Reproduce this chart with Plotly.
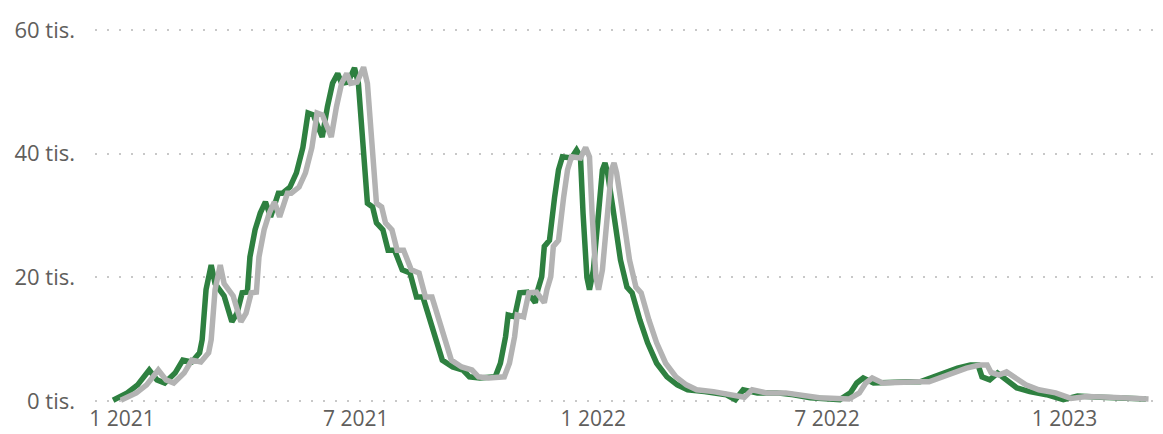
import plotly.graph_objects as go

# Green series (values in thousands)
green_dates = [
    "2020-12-25", "2021-01-05", "2021-01-13", "2021-01-22", "2021-01-28", "2021-02-03", "2021-02-11",
    "2021-02-17", "2021-02-24", "2021-03-02", "2021-03-04", "2021-03-07", "2021-03-11", "2021-03-14",
    "2021-03-21", "2021-03-27", "2021-03-31", "2021-04-04", "2021-04-08", "2021-04-10", "2021-04-14",
    "2021-04-18", "2021-04-22", "2021-04-26", "2021-05-02", "2021-05-05", "2021-05-11", "2021-05-16",
    "2021-05-21", "2021-05-25", "2021-05-29", "2021-06-02", "2021-06-05", "2021-06-09", "2021-06-13",
    "2021-06-17", "2021-06-20", "2021-06-25", "2021-06-30", "2021-07-03", "2021-07-06", "2021-07-08",
    "2021-07-10", "2021-07-14", "2021-07-17", "2021-07-22", "2021-07-26", "2021-07-31", "2021-08-06",
    "2021-08-12", "2021-08-17", "2021-08-22", "2021-08-27", "2021-09-02", "2021-09-06", "2021-09-14",
    "2021-09-22", "2021-09-27", "2021-10-05", "2021-10-17", "2021-10-21", "2021-10-25", "2021-10-27",
    "2021-11-01", "2021-11-05", "2021-11-11", "2021-11-17", "2021-11-19", "2021-11-22", "2021-11-24",
    "2021-11-28", "2021-12-02", "2021-12-05", "2021-12-08", "2021-12-12", "2021-12-15", "2021-12-19",
    "2021-12-22", "2021-12-24", "2021-12-27", "2021-12-29", "2022-01-01", "2022-01-05", "2022-01-08",
    "2022-01-10", "2022-01-12", "2022-01-16", "2022-01-22", "2022-01-27", "2022-01-31", "2022-02-06",
    "2022-02-12", "2022-02-19", "2022-02-27", "2022-03-07", "2022-03-15", "2022-03-28", "2022-04-14",
    "2022-04-21", "2022-04-27", "2022-05-08", "2022-05-23", "2022-06-05", "2022-06-18", "2022-07-11",
    "2022-07-19", "2022-07-24", "2022-07-29", "2022-08-06", "2022-08-21", "2022-09-03", "2022-09-11",
    "2022-09-28", "2022-10-10", "2022-10-20", "2022-10-26", "2022-10-29", "2022-11-04", "2022-11-10",
    "2022-11-18", "2022-11-25", "2022-12-05", "2022-12-18", "2022-12-31", "2023-01-11", "2023-01-29",
    "2023-03-05",
]
green_values = [
    0.1, 1.3, 2.6, 5.0, 3.4, 2.9, 4.5,
    6.6, 6.3, 7.8, 9.9, 18.0, 22.0, 19.0,
    17.0, 12.8, 14.2, 17.5, 17.6, 23.3, 27.7,
    30.4, 32.2, 29.8, 33.6, 33.6, 34.6, 36.9,
    41.0, 46.6, 46.3, 44.3, 42.7, 47.6, 51.4,
    53.0, 51.4, 51.6, 53.9, 51.4, 43.4, 35.3,
    32.0, 31.4, 28.8, 27.7, 24.4, 24.4, 21.2,
    20.7, 16.8, 16.8, 13.6, 9.4, 6.6, 5.5,
    5.0, 3.9, 3.7, 3.9, 6.1, 10.4, 13.9,
    13.6, 17.5, 17.6, 15.9, 18.0, 20.1, 25.0,
    26.0, 33.0, 37.4, 39.5, 39.5, 39.3, 40.6,
    39.5, 30.4, 20.0, 18.0, 21.2, 30.4, 37.4,
    38.5, 36.9, 31.4, 22.8, 18.4, 17.5, 13.1,
    9.4, 6.1, 3.9, 2.6, 1.8, 1.5, 1.0,
    0.2, 1.8, 1.3, 1.3, 1.0, 0.5, 0.2,
    1.3, 2.9, 3.7, 2.9, 3.1, 3.1, 3.1,
    4.5, 5.3, 5.8, 5.8, 3.9, 3.4, 4.5,
    3.1, 2.1, 1.5, 1.0, 0.2, 0.8, 0.6,
    0.3,
]

# Gray series (values in thousands)
gray_dates = [
    "2020-12-31", "2021-01-12", "2021-01-20", "2021-01-29", "2021-02-04", "2021-02-10", "2021-02-18",
    "2021-02-24", "2021-03-03", "2021-03-09", "2021-03-11", "2021-03-14", "2021-03-18", "2021-03-21",
    "2021-03-28", "2021-04-03", "2021-04-07", "2021-04-11", "2021-04-15", "2021-04-17", "2021-04-21",
    "2021-04-25", "2021-04-29", "2021-05-03", "2021-05-09", "2021-05-12", "2021-05-18", "2021-05-23",
    "2021-05-28", "2021-06-01", "2021-06-05", "2021-06-09", "2021-06-12", "2021-06-16", "2021-06-20",
    "2021-06-24", "2021-06-27", "2021-07-02", "2021-07-07", "2021-07-10", "2021-07-13", "2021-07-15",
    "2021-07-17", "2021-07-21", "2021-07-24", "2021-07-29", "2021-08-02", "2021-08-07", "2021-08-13",
    "2021-08-19", "2021-08-24", "2021-08-29", "2021-09-03", "2021-09-09", "2021-09-13", "2021-09-21",
    "2021-09-29", "2021-10-04", "2021-10-12", "2021-10-24", "2021-10-28", "2021-11-01", "2021-11-03",
    "2021-11-08", "2021-11-12", "2021-11-18", "2021-11-24", "2021-11-26", "2021-11-29", "2021-12-01",
    "2021-12-05", "2021-12-09", "2021-12-12", "2021-12-15", "2021-12-19", "2021-12-22", "2021-12-26",
    "2021-12-29", "2021-12-31", "2022-01-03", "2022-01-05", "2022-01-08", "2022-01-12", "2022-01-15",
    "2022-01-17", "2022-01-19", "2022-01-23", "2022-01-29", "2022-02-03", "2022-02-07", "2022-02-13",
    "2022-02-19", "2022-02-26", "2022-03-06", "2022-03-14", "2022-03-22", "2022-04-04", "2022-04-21",
    "2022-04-28", "2022-05-04", "2022-05-15", "2022-05-30", "2022-06-12", "2022-06-25", "2022-07-18",
    "2022-07-26", "2022-07-31", "2022-08-05", "2022-08-13", "2022-08-28", "2022-09-10", "2022-09-18",
    "2022-10-05", "2022-10-17", "2022-10-27", "2022-11-02", "2022-11-05", "2022-11-11", "2022-11-17",
    "2022-11-25", "2022-12-02", "2022-12-12", "2022-12-25", "2023-01-06", "2023-01-18", "2023-02-05",
    "2023-03-07",
]
gray_values = [
    0.1, 1.3, 2.6, 5.0, 3.4, 2.9, 4.5,
    6.6, 6.3, 7.8, 9.9, 18.0, 22.0, 19.0,
    17.0, 12.8, 14.2, 17.5, 17.6, 23.3, 27.7,
    30.4, 32.2, 29.8, 33.6, 33.6, 34.6, 36.9,
    41.0, 46.6, 46.3, 44.3, 42.7, 47.6, 51.4,
    53.0, 51.4, 51.6, 54.0, 51.4, 43.4, 35.3,
    32.0, 31.4, 28.8, 27.7, 24.4, 24.4, 21.2,
    20.7, 16.8, 16.8, 13.6, 9.4, 6.6, 5.5,
    5.0, 3.9, 3.7, 3.9, 6.1, 10.4, 13.9,
    13.6, 17.5, 17.6, 15.9, 18.0, 20.1, 25.0,
    26.0, 33.0, 37.4, 39.5, 39.5, 39.3, 41.0,
    39.5, 30.4, 20.0, 18.0, 21.2, 30.4, 37.4,
    38.5, 36.9, 31.4, 22.8, 18.4, 17.5, 13.1,
    9.4, 6.1, 3.9, 2.6, 1.8, 1.5, 1.0,
    0.6, 1.8, 1.3, 1.3, 1.0, 0.5, 0.3,
    1.3, 2.9, 3.7, 2.9, 3.1, 3.1, 3.1,
    4.5, 5.3, 5.8, 5.8, 4.6, 4.2, 4.7,
    3.6, 2.6, 1.8, 1.3, 0.4, 0.7, 0.6,
    0.3,
]

x_tick_vals = ["2021-01-01", "2021-07-01", "2022-01-01", "2022-07-01", "2023-01-01"]
x_tick_text = ["1 2021", "7 2021", "1 2022", "7 2022", "1 2023"]
y_tick_vals = [0, 20, 40, 60]
y_tick_text = ["0 tis.", "20 tis.", "40 tis.", "60 tis."]

GREEN = "#2E8040"
GRAY = "#B3B3B3"
FONT = "Open Sans"
LABEL = "#605E5C"

fig = go.Figure()
fig.add_trace(go.Scatter(x=green_dates, y=green_values, mode="lines",
                         line=dict(color=GREEN, width=5.5), showlegend=False))
fig.add_trace(go.Scatter(x=gray_dates, y=gray_values, mode="lines",
                         line=dict(color=GRAY, width=5.5), showlegend=False))

# the page body adds an 8px offset, so the figure is sized 8px smaller than the window
fig.update_layout(
    width=1155, height=426,
    margin=dict(l=87, r=8, t=16, b=30),
    paper_bgcolor="white", plot_bgcolor="white",
    font=dict(family=FONT, size=22, color=LABEL),
)
fig.update_xaxes(
    type="date", range=["2020-12-11", "2023-03-12"],
    tickvals=x_tick_vals, ticktext=x_tick_text,
    showgrid=False, zeroline=False, showline=False,
    ticks="", ticklabelstandoff=0,
    tickfont=dict(family=FONT, size=21, color=LABEL),
    automargin=False,
)
fig.update_yaxes(
    range=[-0.5, 61], tickvals=y_tick_vals, ticktext=y_tick_text,
    showgrid=True, gridcolor="#C8C8C8", gridwidth=1.5, griddash="2px,10px",
    zeroline=False, showline=False, ticks="",
    ticklabelstandoff=19,
    tickfont=dict(family=FONT, size=22, color=LABEL),
    automargin=False,
)

fig.write_html("out.html")
